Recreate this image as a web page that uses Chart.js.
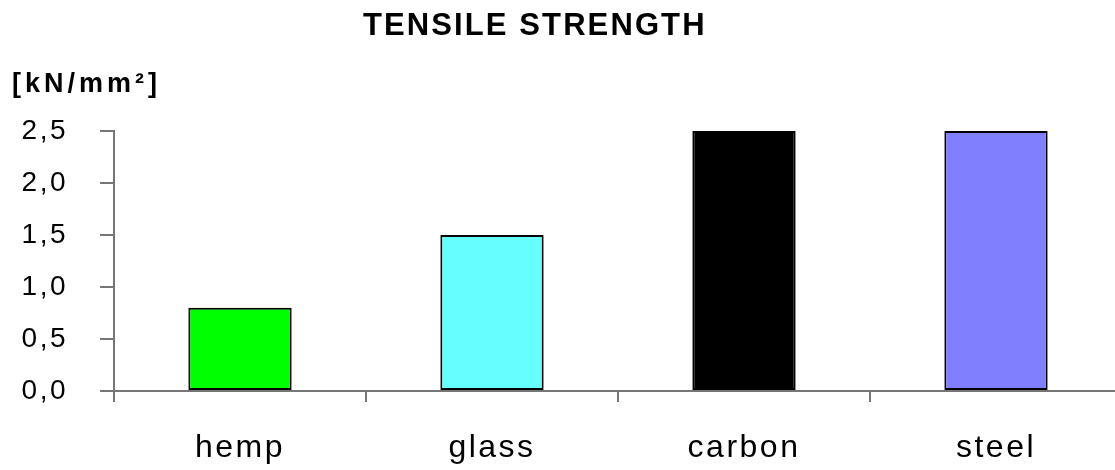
<!DOCTYPE html>
<html>
<head>
<meta charset="utf-8">
<title>Tensile strength</title>
<script src="https://cdn.jsdelivr.net/npm/chart.js@4/dist/chart.umd.min.js"></script>
<style>
  html, body { margin: 0; padding: 0; background: #fff; overflow: hidden; }
  #wrap { position: relative; width: 1115px; height: 470px; overflow: hidden; }
  #box { position: absolute; left: 0; top: 0; width: 1125px; height: 470px; }
  .lbl { position: absolute; font-family: "Liberation Sans", Arial, sans-serif; font-weight: bold; color: #000; white-space: nowrap; }
  #title { left: 363px; top: 9px; font-size: 31px; line-height: 31px; letter-spacing: 2.1px; }
  #unit { left: 12px; top: 70px; font-size: 27px; line-height: 27px; letter-spacing: 4px; }
</style>
</head>
<body>
<div id="wrap">
  <div id="box"><canvas id="c"></canvas></div>
  <div class="lbl" id="title">TENSILE STRENGTH</div>
  <div class="lbl" id="unit">[kN/mm²]</div>
</div>
<script>
// Fibre materials and their tensile strength in kN/mm²
const materials = ['hemp', 'glass', 'carbon', 'steel'];
const strength = [0.8, 1.5, 2.5, 2.5];
const barColors = ['#00FF00', '#66FFFF', '#000000', '#8080FF'];
const yTicks = [0, 0.5, 1.0, 1.5, 2.0, 2.5];

const axisGrey = '#767676';

// wide tracking for the axis text
const tracking = {
  id: 'tracking',
  beforeUpdate(chart) { chart.ctx.letterSpacing = '2.5px'; },
  beforeDraw(chart) { chart.ctx.letterSpacing = '2.5px'; }
};

new Chart(document.getElementById('c'), {
  type: 'bar',
  data: {
    labels: materials,
    datasets: [{
      data: strength,
      backgroundColor: barColors,
      borderColor: '#000',
      borderWidth: 2,
      borderSkipped: false,
      barPercentage: 0.41,
      categoryPercentage: 1.0
    }]
  },
  options: {
    responsive: true,
    maintainAspectRatio: false,
    animation: false,
    events: [],
    layout: { padding: { top: 131, right: 3, left: 0, bottom: 0 } },
    plugins: { legend: { display: false }, tooltip: { enabled: false }, title: { display: false } },
    scales: {
      x: {
        offset: true,
        afterFit(s) { s.height = 79; },
        grid: { display: true, drawOnChartArea: false, drawTicks: true, tickLength: 11, color: axisGrey, lineWidth: 2, offset: true },
        border: { display: true, color: axisGrey, width: 2 },
        ticks: {
          padding: 27,
          color: '#000',
          font: { family: 'Liberation Sans', size: 32 }
        }
      },
      y: {
        min: 0,
        max: 2.5,
        afterFit(s) { s.width = 114; },
        afterBuildTicks(s) { s.ticks = yTicks.map(v => ({ value: v })); },
        grid: { display: true, drawOnChartArea: false, drawTicks: true, tickLength: 14, color: axisGrey, lineWidth: 2 },
        border: { display: true, color: axisGrey, width: 2 },
        ticks: {
          padding: 32,
          color: '#000',
          font: { family: 'Liberation Sans', size: 28 },
          callback: v => v.toFixed(1).replace('.', ',')
        }
      }
    }
  },
  plugins: [tracking]
});
</script>
</body>
</html>
